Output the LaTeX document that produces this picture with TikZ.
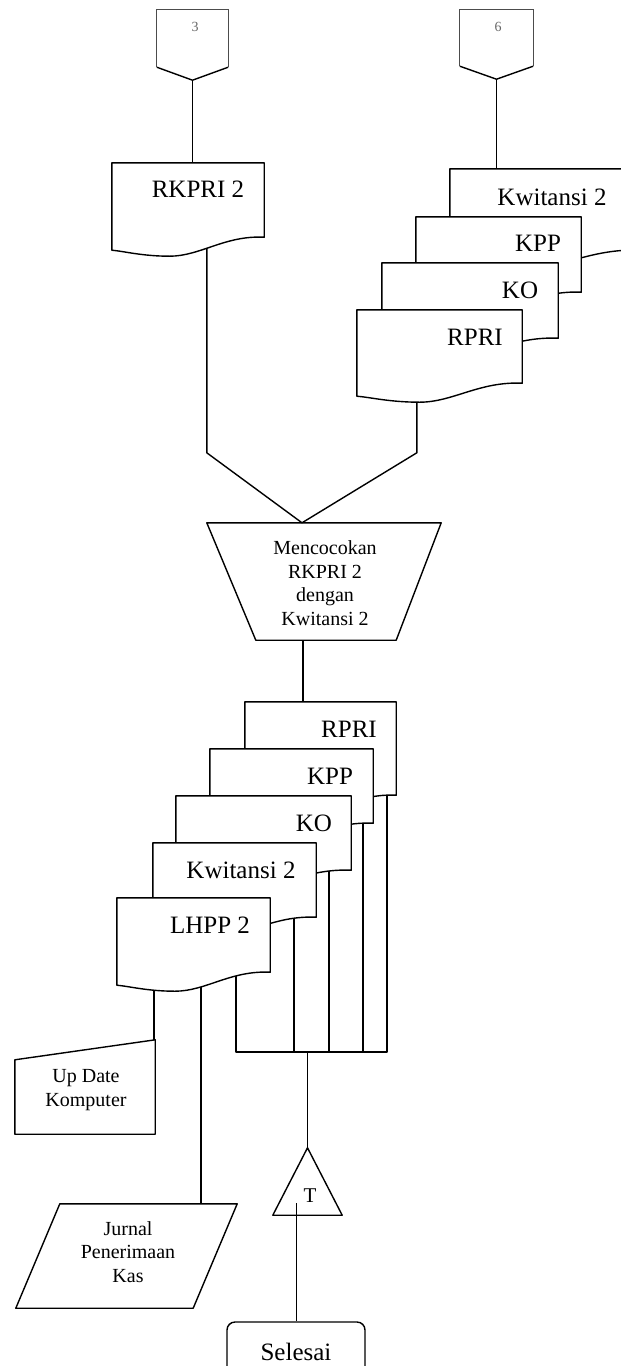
\documentclass[tikz,border=0pt]{standalone}
\usepackage{fontspec}
\setmainfont{Liberation Serif}
\usetikzlibrary{calc}
\pgfdeclarelayer{background}
\pgfsetlayers{background,main}
\tikzset{
  ln/.style={line width=1.4pt, line join=round},
  thinln/.style={line width=0.7pt, draw=black!70},
  box/.style={draw=none, inner sep=0pt},
  dtext/.style={inner sep=0pt, font=\fontsize{25}{30}\selectfont},
  stext/.style={inner sep=0pt, align=center, font=\fontsize{20}{23.5}\selectfont},
  ctext/.style={inner sep=0pt, text=black!60, font=\fontsize{14}{16}\selectfont},
}
\newcommand{\mydoc}[2]{%
  \filldraw[ln, fill=white] (#1.south east) -- (#1.north east) -- (#1.north west) -- ($(#1.south west)+(0,13)$)
   .. controls ($(#1.south west)+(0.08*#2,14)$) and ($(#1.south west)+(0.2*#2,19)$) .. ($(#1.south west)+(0.38*#2,19)$)
   .. controls ($(#1.south east)+(-0.42*#2,19)$) and ($(#1.south east)+(-0.26*#2,-2)$) .. (#1.south east) -- cycle;}
\begin{document}
\begin{tikzpicture}[x=1pt,y=-1pt]
\clip (0,0) rectangle (621,1366);
\begin{pgfonlayer}{background}
\fill[white] (0,0) rectangle (621,1366);
\end{pgfonlayer}

% ---------- off-page connectors ----------
\node[box, minimum width=71, minimum height=57] (off3) at (192.5,38.5) {};
\node[box, minimum width=73, minimum height=56] (off6) at (496.5,38) {};
\coordinate (off3-pt) at ($(off3.south)+(0,13)$);
\coordinate (off6-pt) at ($(off6.south)+(0,13)$);
\draw[thinln] (off3.south west) -- (off3.north west) -- (off3.north east) -- (off3.south east);
\draw[ln] (off3.south west) -- (off3-pt) -- (off3.south east);
\draw[thinln] (off6.south west) -- (off6.north west) -- (off6.north east) -- (off6.south east);
\draw[ln] (off6.south west) -- (off6-pt) -- (off6.south east);
\node[ctext] (off3-t) at (195,27) {3};
\node[ctext] (off6-t) at (498,27) {6};

% ---------- top left document ----------
\node[box, minimum width=152, minimum height=74] (rk) at (188,200) {};
\mydoc{rk}{152}
\node[dtext] (rk-t) at (198,189) {RKPRI 2};

% ---------- top right stack ----------
\node[box, minimum width=190, minimum height=81] (kwa) at (545,209.5) {};
\mydoc{kwa}{190}
\node[dtext] (kwa-t) at (552,197) {Kwitansi 2};
\node[box, minimum width=165, minimum height=75] (kppa) at (498.5,254.5) {};
\mydoc{kppa}{165}
\node[dtext] (kppa-t) at (538,243) {KPP};
\node[box, minimum width=176, minimum height=75] (koa) at (470,300.5) {};
\mydoc{koa}{176}
\node[dtext] (koa-t) at (520,290) {KO};
\node[box, minimum width=165, minimum height=73] (rpria) at (439.5,346.5) {};
\mydoc{rpria}{165}
\node[dtext] (rpria-t) at (475,337) {RPRI};

% ---------- manual operation ----------
\node[box, minimum width=234, minimum height=117] (trap) at (324,581.5) {};
\draw[ln] (trap.north west) -- (trap.north east) -- ($(trap.south east)+(-45,0)$) -- ($(trap.south west)+(49,0)$) -- cycle;
\node[stext] (trap-t) at (325,583) {Mencocokan\\RKPRI 2\\dengan\\Kwitansi 2};

% ---------- bottom stack ----------
\node[box, minimum width=151, minimum height=93] (rprib) at (320.5,748.5) {};
\mydoc{rprib}{151}
\node[dtext] (rprib-t) at (349,729) {RPRI};
\node[box, minimum width=163, minimum height=74] (kppb) at (291.5,786) {};
\mydoc{kppb}{163}
\node[dtext] (kppb-t) at (330,776) {KPP};
\node[box, minimum width=175, minimum height=74] (kob) at (263.5,833) {};
\mydoc{kob}{175}
\node[dtext] (kob-t) at (314,823) {KO};
\node[box, minimum width=163, minimum height=74] (kwb) at (234.5,880) {};
\mydoc{kwb}{163}
\node[dtext] (kwb-t) at (241,870) {Kwitansi 2};
\node[box, minimum width=153, minimum height=74] (lhpp) at (193.5,935) {};
\mydoc{lhpp}{153}
\node[dtext] (lhpp-t) at (210,925) {LHPP 2};

% ---------- manual input ----------
\node[box, minimum width=140, minimum height=94] (upd) at (85,1087) {};
\draw[ln] ($(upd.north west)+(0,20)$) -- (upd.north east) -- (upd.south east) -- (upd.south west) -- cycle;
\node[stext] (upd-t) at (86,1090) {Up Date\\Komputer};

% ---------- output ----------
\node[box, minimum width=221, minimum height=104] (jur) at (126.5,1256) {};
\draw[ln] ($(jur.north west)+(44,0)$) -- (jur.north east) -- ($(jur.south east)+(-44,0)$) -- (jur.south west) -- cycle;
\node[stext] (jur-t) at (128,1252) {Jurnal\\Penerimaan\\Kas};

% ---------- file ----------
\node[box, minimum width=69, minimum height=67] (tri) at (307.5,1181.5) {};
\draw[ln] (tri.south west) -- (tri.north) -- (tri.south east) -- cycle;
\node[inner sep=0pt, font=\fontsize{21}{24}\selectfont] (tri-t) at (310,1196) {T};

% ---------- terminator ----------
\node[ln, draw, rounded corners=8pt, minimum width=138, minimum height=60, inner sep=0pt,
      font=\fontsize{25}{30}\selectfont] (sel) at (296,1352) {Selesai};

% ---------- connectors ----------
\begin{pgfonlayer}{background}
\draw[ln] (off3-pt) -- (off3-pt |- rk.north);
\draw[ln] (off6-pt) -- (off6-pt |- kwa.north);
\coordinate (rk-o) at ($(rk.south west)+(95,0)$);
\coordinate (rp-o) at ($(rpria.south west)+(60,0)$);
\coordinate (mg) at ($(trap.north)+(-22,0)$);
\draw[ln] (rk-o) -- ($(rk-o |- mg)+(0,-70)$) -- (mg);
\draw[ln] (rp-o) -- ($(rp-o |- mg)+(0,-70)$) -- (mg);
\coordinate (tr-o) at ($(trap.south)+(-21,0)$);
\draw[ln] (tr-o) -- ($(tr-o |- rprib.north)+(0,8)$);
% bus
\coordinate (bus) at (306,1052);
\coordinate (o-lh) at ($(lhpp.south west)+(119,0)$);
\coordinate (o-kw) at ($(kwb.south west)+(141,0)$);
\coordinate (o-ko) at ($(kob.south west)+(153,0)$);
\coordinate (o-kp) at ($(kppb.south west)+(153,0)$);
\coordinate (o-rp) at ($(rprib.south west)+(142,0)$);
\draw[ln] (o-lh) -- (o-lh |- bus) -- (o-rp |- bus) -- (o-rp);
\draw[ln] (o-kw) -- (o-kw |- bus);
\draw[ln] (o-ko) -- (o-ko |- bus);
\draw[ln] (o-kp) -- (o-kp |- bus);
\draw[ln] (bus) -- (bus -| tri.north) -- (tri.north);
% to manual input and output
\coordinate (o-up) at ($(lhpp.south west)+(37,0)$);
\coordinate (o-ju) at ($(lhpp.south west)+(84,0)$);
\draw[ln] (o-up) -- (o-up |- upd.north east);
\draw[ln] (o-ju) -- (o-ju |- jur.north);
% to terminator
\coordinate (tri-o) at ($(tri.south)+(-11,-12)$);
\draw[ln] (tri-o) -- (tri-o |- sel.north);
\end{pgfonlayer}
\end{tikzpicture}
\end{document}
